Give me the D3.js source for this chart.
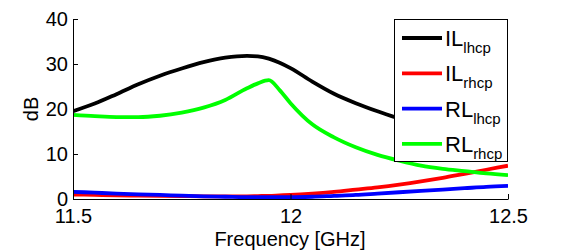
<!DOCTYPE html>
<html><head><meta charset="utf-8">
<script src="https://cdn.jsdelivr.net/npm/d3@7"></script>
<style>body{margin:0;background:#fff}svg{display:block}text{font-family:"Liberation Sans",Arial,sans-serif}</style>
</head><body><svg id="c" width="561" height="251"></svg>
<script>
const freq     = [11.5,11.55,11.6,11.65,11.7,11.75,11.8,11.85,11.9,11.925,11.95,11.975,12.0,12.05,12.1,12.15,12.2,12.25,12.3,12.35,12.4,12.45,12.5];
const ilLhcp   = [19.5,21.2,23.3,25.5,27.4,29.0,30.4,31.4,31.8,31.7,31.2,30.3,29.1,26.1,23.4,21.3,19.5,17.9,16.9,16.1,15.4,14.9,14.6];
const ilRhcp   = [1.0,0.9,0.8,0.75,0.7,0.65,0.6,0.6,0.6,0.65,0.7,0.8,0.9,1.2,1.6,2.1,2.6,3.2,3.9,4.7,5.6,6.5,7.4];
const rlLhcp   = [1.6,1.4,1.2,1.05,0.9,0.75,0.6,0.5,0.4,0.4,0.4,0.4,0.4,0.5,0.7,0.9,1.2,1.5,1.8,2.1,2.4,2.7,2.9];
const rlRhcp   = [18.7,18.4,18.2,18.2,18.5,19.2,20.3,22.0,24.6,25.7,26.4,24.2,21.3,16.6,13.7,11.5,9.8,8.5,7.4,6.7,6.2,5.7,5.3];
const seriesNames = [["IL","lhcp"],["IL","rhcp"],["RL","lhcp"],["RL","rhcp"]];
const seriesColors = ["#000000","#ff0000","#0000ff","#00ff00"];
const xTicks = [11.5,12,12.5];
const yTicks = [0,10,20,30,40];
const xLabel = "Frequency [GHz]";
const yLabel = "dB";

const svg = d3.select("#c");
const x = d3.scaleLinear().domain([11.5,12.5]).range([73,508]);
const y = d3.scaleLinear().domain([0,40]).range([199,19]);
const all = [ilLhcp, ilRhcp, rlLhcp, rlRhcp];

const line = d3.line().x((d,i)=>x(freq[i])).y(d=>y(d)).curve(d3.curveMonotoneX);
svg.append("clipPath").attr("id","pc").append("rect")
  .attr("x",73).attr("y",17).attr("width",435).attr("height",182);
all.forEach((s,k)=>{
  svg.append("path").datum(s).attr("d",line).attr("fill","none")
    .attr("stroke",seriesColors[k]).attr("stroke-width",3.8)
    .attr("stroke-linejoin","round").attr("clip-path","url(#pc)");
});

// axes
const xa = svg.append("g").attr("transform","translate(0,199)")
  .call(d3.axisBottom(x).tickValues(xTicks).tickFormat(d3.format("")).tickSizeInner(-5).tickSizeOuter(0).tickPadding(10));
const ya = svg.append("g").attr("transform","translate(73,0)")
  .call(d3.axisLeft(y).tickValues(yTicks).tickSizeInner(-5).tickSizeOuter(0).tickPadding(5));
[xa,ya].forEach(a=>{
  a.selectAll("path").attr("stroke","#000").attr("stroke-width",1);
  a.selectAll("line").attr("stroke","#000");
  a.selectAll("text").attr("font-size",20).attr("fill","#000").attr("font-family","Liberation Sans, Arial, sans-serif");
});
xa.selectAll("text").attr("dy","0.71em");
ya.selectAll("text").attr("dy","0.33em");

svg.append("text").attr("x",290).attr("y",246).attr("text-anchor","middle")
  .attr("font-size",20).text(xLabel);
svg.append("text").attr("transform","translate(38,109) rotate(-90)").attr("text-anchor","middle")
  .attr("font-size",20).text(yLabel);

// legend
const lg = svg.append("g");
lg.append("rect").attr("x",394.5).attr("y",19.5).attr("width",113).attr("height",142)
  .attr("fill","#fff").attr("stroke","#000").attr("stroke-width",1);
seriesNames.forEach((n,k)=>{
  const yy = 38 + k*35.3;
  lg.append("line").attr("x1",402).attr("x2",442).attr("y1",yy).attr("y2",yy)
    .attr("stroke",seriesColors[k]).attr("stroke-width",3.8);
  const t = lg.append("text").attr("x",445).attr("y",yy+8).attr("font-size",22);
  t.append("tspan").text(n[0]);
  t.append("tspan").attr("dy",7).attr("font-size",15).text(n[1]);
});
</script></body></html>
